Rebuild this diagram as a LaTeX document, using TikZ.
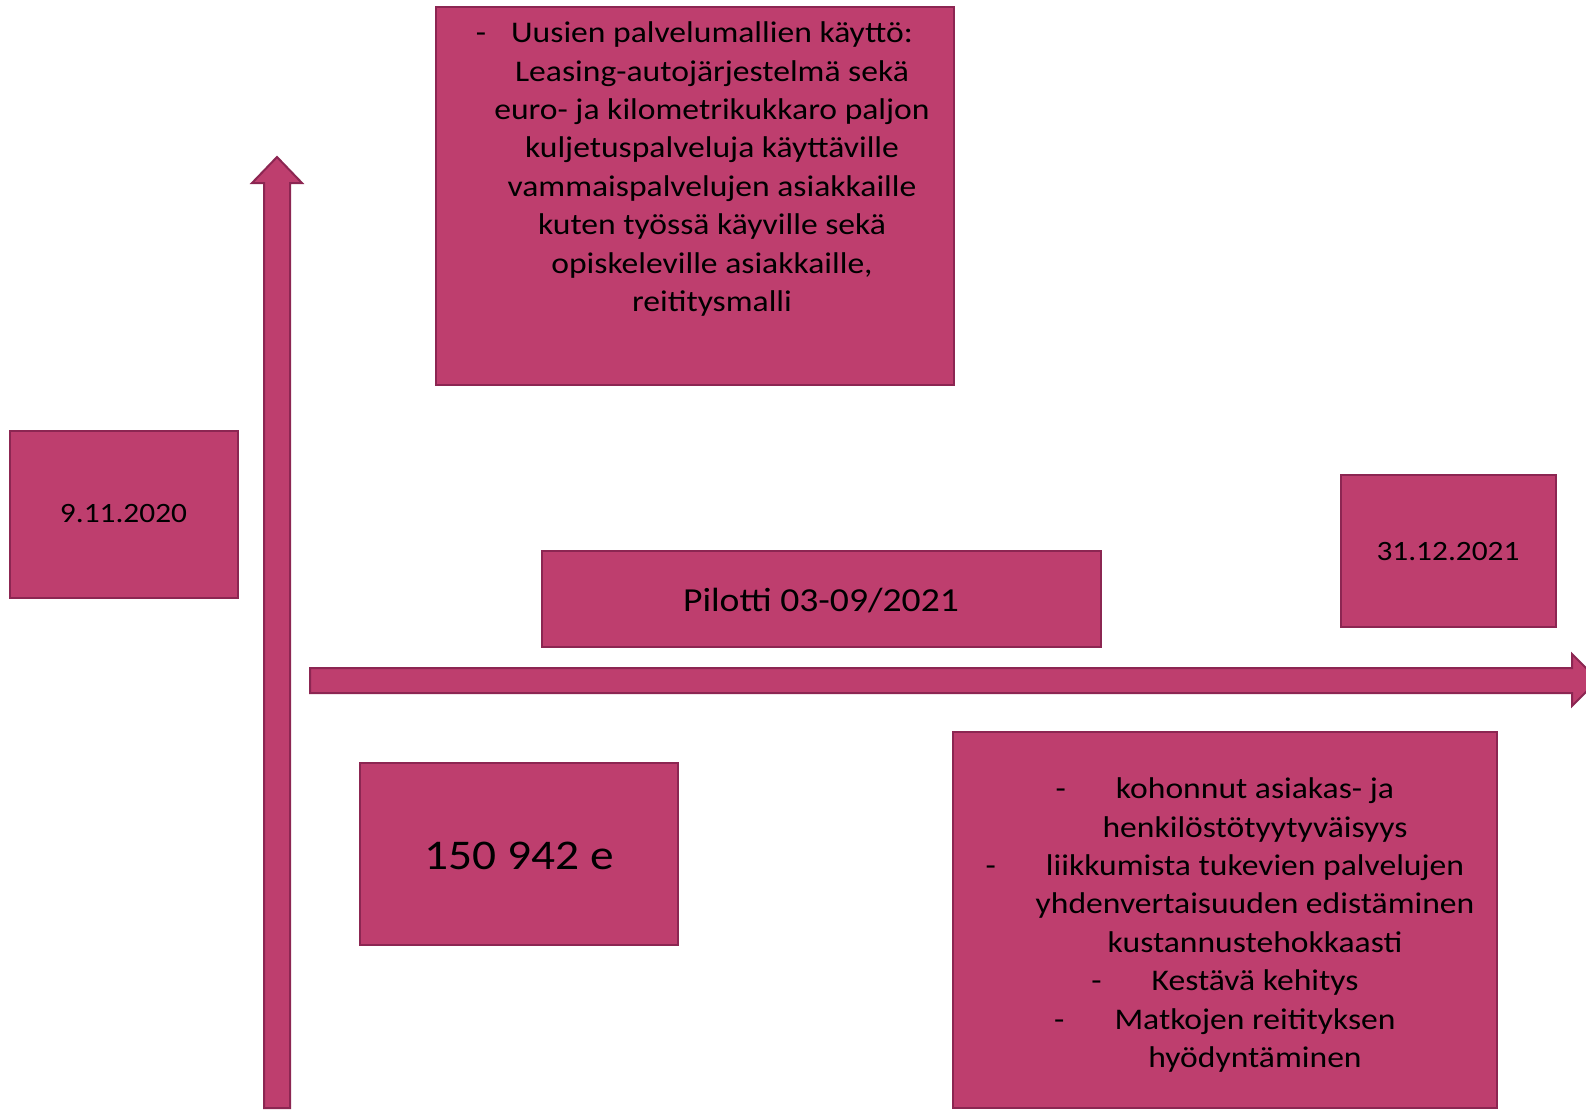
\documentclass[tikz,border=0pt]{standalone}
\usepackage{fontspec}
\setmainfont{Carlito}[FakeStretch=1.12]
\definecolor{boxfill}{RGB}{190,62,110}
\definecolor{boxline}{RGB}{140,38,82}
\begin{document}
\begin{tikzpicture}[x=1pt,y=-1pt,
  pbox/.style={fill=boxfill,draw=boxline,line width=2pt},
  ptext/.style={align=center,font=\fontsize{30}{38.4}\selectfont,inner sep=0pt}]
\useasboundingbox (0,0) rectangle (1586,1111);
% block arrows
\path[pbox] (264,1108) -- (264,183) -- (252,183) -- (277,157) -- (302,183) -- (290,183) -- (290,1108) -- cycle;
\path[pbox] (310,668) -- (1572,668) -- (1572,654) -- (1598,680) -- (1572,706) -- (1572,693) -- (310,693) -- cycle;
% boxes
\path[pbox] (436,7) rectangle (954,385);
\path[pbox] (10,431) rectangle (238,598);
\path[pbox] (542,551) rectangle (1101,647);
\path[pbox] (1341,475) rectangle (1556,627);
\path[pbox] (360,763) rectangle (678,945);
\path[pbox] (953,732) rectangle (1497,1108);
% texts
\node[ptext] (top) at (712,169) {\llap{-\hspace{25pt}}Uusien palvelumallien käyttö:\\
Leasing-autojärjestelmä sekä\\
euro- ja kilometrikukkaro paljon\\
kuljetuspalveluja käyttäville\\
vammaispalvelujen asiakkaille\\
kuten työssä käyville sekä\\
opiskeleville asiakkaille,\\
reititysmalli};
\node[ptext,font=\fontsize{28}{34}\selectfont] (d1) at (123.5,514) {9.11.2020};
\node[ptext,font=\fontsize{28}{34}\selectfont] (d2) at (1448,552) {31.12.2021};
\node[ptext,font=\fontsize{33.6}{40}\selectfont] (pil) at (821,601) {Pilotti 03-09/2021};
\node[ptext,font=\fontsize{42.3}{50}\selectfont] (sum) at (519,856) {150 942 e};
\node[ptext] (res) at (1255,925) {\llap{-\hspace{50pt}}kohonnut asiakas- ja\\
henkilöstötyytyväisyys\\
\llap{-\hspace{50pt}}liikkumista tukevien palvelujen\\
yhdenvertaisuuden edistäminen\\
kustannustehokkaasti\\
\llap{-\hspace{50pt}}Kestävä kehitys\\
\llap{-\hspace{50pt}}Matkojen reitityksen\\
hyödyntäminen};
\end{tikzpicture}
\end{document}
